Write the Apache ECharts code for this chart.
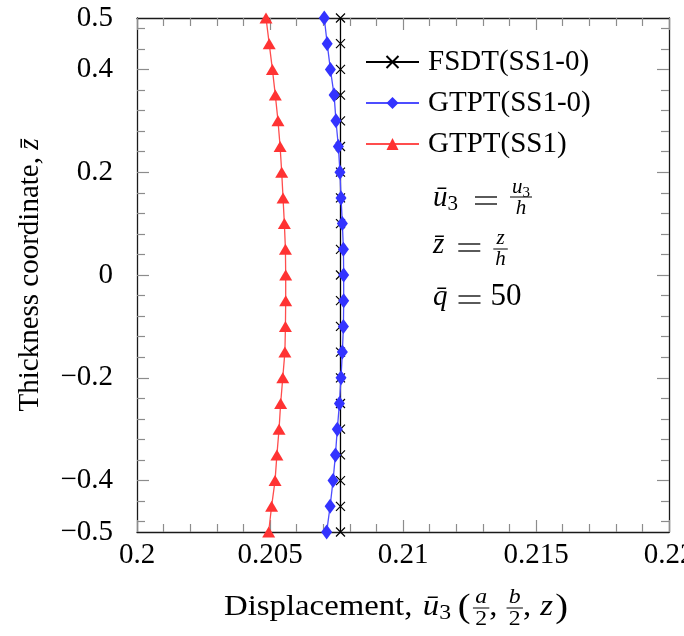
<!DOCTYPE html>
<html>
<head>
<meta charset="utf-8">
<script src="https://cdn.jsdelivr.net/npm/echarts@6/dist/echarts.min.js"></script>
<style>html,body{margin:0;padding:0;background:#fff}#c{width:684px;height:636px}</style>
</head>
<body>
<div id="c"></div>
<script>
// ---- data ----
const seriesNames = ['FSDT(SS1-0)', 'GTPT(SS1-0)', 'GTPT(SS1)'];
const zValues = [-0.5, -0.45, -0.4, -0.35, -0.3, -0.25, -0.2, -0.15, -0.1, -0.05, 0,
                 0.05, 0.1, 0.15, 0.2, 0.25, 0.3, 0.35, 0.4, 0.45, 0.5];
const fsdtSS10 = [0.20765, 0.20765, 0.20765, 0.20765, 0.20765, 0.20765, 0.20765, 0.20765, 0.20765, 0.20765, 0.20765,
                  0.20765, 0.20765, 0.20765, 0.20765, 0.20765, 0.20765, 0.20765, 0.20765, 0.20765, 0.20765];
const gtptSS10 = [0.20713, 0.20726, 0.20737, 0.20746, 0.20753, 0.20761, 0.20767, 0.20772, 0.20776, 0.20777, 0.20777,
                  0.20776, 0.20772, 0.20767, 0.20763, 0.20757, 0.20748, 0.20741, 0.20727, 0.20715, 0.20704];
const gtptSS1  = [0.20495, 0.20506, 0.20519, 0.20526, 0.20534, 0.20540, 0.20548, 0.20556, 0.20558, 0.20559, 0.20559,
                  0.20558, 0.20554, 0.20549, 0.20544, 0.20538, 0.20530, 0.20520, 0.20509, 0.20497, 0.20485];
const xTickLabels = [0.2, 0.205, 0.21, 0.215, 0.22];
const xMinorTicks = [0.201, 0.202, 0.203, 0.204, 0.206, 0.207, 0.208, 0.209, 0.211, 0.212, 0.213, 0.214,
                     0.216, 0.217, 0.218, 0.219];
const yTickLabels = [-0.5, -0.4, -0.2, 0, 0.2, 0.4, 0.5];
const yMajorTicks = [-0.4, -0.2, 0, 0.2, 0.4];
const yMinorTicks = [-0.48, -0.44, -0.36, -0.32, -0.28, -0.24, -0.16, -0.12, -0.08, -0.04,
                     0.04, 0.08, 0.12, 0.16, 0.24, 0.28, 0.32, 0.36, 0.44, 0.48];

// ---- helpers ----
const SERIF = '"Liberation Serif", "Times New Roman", serif';
const TICKC = '#8c8c8c';
const AXISC = '#1a1a1a';
const mctx = document.createElement('canvas').getContext('2d');
function fontStr(size, italic) { return (italic ? 'italic ' : '') + size + 'px ' + SERIF; }
function tw(t, size, italic) { mctx.font = fontStr(size, italic); return mctx.measureText(t).width; }
function txt(t, x, baseline, size, italic) {
  return { type: 'text', x: x, y: baseline - 0.34 * size, silent: true,
    style: { text: t, font: fontStr(size, italic), fill: '#000', verticalAlign: 'middle', align: 'left' } };
}
function hline(x1, x2, y, lw) {
  return { type: 'line', silent: true, shape: { x1: x1, y1: y, x2: x2, y2: y }, style: { stroke: '#000', lineWidth: lw || 1 } };
}
// parts: {t,size,italic,dy} | {gap} | {eq:width} | {frac:[[parts],[parts]], bar, num, den}
function rowWidth(parts) {
  let w = 0;
  parts.forEach(p => {
    if (p.gap !== undefined) w += p.gap;
    else if (p.eq !== undefined) w += p.eq;
    else if (p.frac) w += Math.max(rowWidth(p.frac[0]), rowWidth(p.frac[1])) + 4;
    else w += tw(p.t, p.size, p.italic);
  });
  return w;
}
function mathRow(x0, B, parts, out) {
  let x = x0;
  parts.forEach(p => {
    if (p.gap !== undefined) { x += p.gap; return; }
    if (p.eq !== undefined) {
      out.push(hline(x, x + p.eq, B - 11, 1.3));
      out.push(hline(x, x + p.eq, B - 4, 1.3));
      x += p.eq; return;
    }
    if (p.frac) {
      const wn = rowWidth(p.frac[0]), wd = rowWidth(p.frac[1]);
      const W = Math.max(wn, wd) + 4;
      mathRow(x + (W - wn) / 2, B + p.num, p.frac[0], out);
      mathRow(x + (W - wd) / 2, B + p.den, p.frac[1], out);
      out.push(hline(x, x + W, B + p.bar, 1));
      x += W; return;
    }
    out.push(txt(p.t, x, B + (p.dy || 0), p.size, p.italic));
    x += tw(p.t, p.size, p.italic);
  });
  return x;
}

const F = 29, FS = 21, FSS = 15;
const graphics = [];
// x-axis title (slightly widened to imitate Computer Modern proportions)
const xTitle = [
  { t: 'Displacement, ', size: F }, { gap: 2 }, { t: 'ū', size: F, italic: true }, { t: '3', size: FS, dy: 4 },
  { gap: 6 }, { t: '(', size: 34, dy: 3 }, { gap: 2 },
  { frac: [[{ t: 'a', size: FS, italic: true }], [{ t: '2', size: FS }]], num: -12, den: 10, bar: -9 },
  { t: ',', size: F }, { gap: 8 },
  { frac: [[{ t: 'b', size: FS, italic: true }], [{ t: '2', size: FS }]], num: -12, den: 10, bar: -9 },
  { t: ',', size: F }, { gap: 8 }, { t: 'z', size: F, italic: true }, { gap: 2 }, { t: ')', size: 34, dy: 3 }
];
const xs = 1.13;
const xTitleEls = [];
mathRow(0, 617, xTitle, xTitleEls);
graphics.push({ type: 'group', x: 396 - rowWidth(xTitle) * xs / 2, y: 0, scaleX: xs, children: xTitleEls });
// annotations
mathRow(433, 208, [{ t: 'ū', size: F, italic: true }, { t: '3', size: FS, dy: 4 }, { gap: 17 }, { eq: 22 }, { gap: 13 },
  { frac: [[{ t: 'u', size: FS, italic: true }, { t: '3', size: FSS, dy: 3 }], [{ t: 'h', size: FS, italic: true }]], num: -13, den: 8, bar: -11 }], graphics);
mathRow(433, 255, [{ t: 'z̄', size: F, italic: true }, { gap: 14 }, { eq: 22 }, { gap: 13 },
  { frac: [[{ t: 'z', size: FS, italic: true }], [{ t: 'h', size: FS, italic: true }]], num: -9, den: 12, bar: -6 }], graphics);
mathRow(433, 307, [{ t: 'q̄', size: F, italic: true }, { gap: 11 }, { eq: 22 }, { gap: 10 }, { t: '50', size: 31 }], graphics);

function fmt(v) { return String(parseFloat(v.toFixed(4))).replace('-', '\u2212'); }

function mkAxis(kind, pos, opts) {
  return {
    type: 'value', position: pos,
    min: kind === 'x' ? 0.2 : -0.5, max: kind === 'x' ? 0.22 : 0.5,
    splitLine: { show: false },
    axisLine: { show: !!opts.line, onZero: false, lineStyle: { color: AXISC, width: 1.3 } },
    axisTick: { show: true, inside: true, length: opts.len, customValues: opts.ticks, lineStyle: { color: TICKC, width: 1.2 } },
    axisLabel: opts.labels ? { show: true, customValues: opts.labels, formatter: fmt, margin: opts.margin,
      fontFamily: SERIF, fontSize: F, color: '#000', hideOverlap: false, showMinLabel: true, showMaxLabel: true }
      : { show: false }
  };
}
const option = {
  animation: false,
  backgroundColor: '#fff',
  grid: { left: 137, right: 15, top: 18, bottom: 104, containLabel: false, outerBoundsMode: 'none' },
  xAxis: [
    mkAxis('x', 'bottom', { line: true, len: 12, ticks: xTickLabels, labels: xTickLabels, margin: 9 }),
    mkAxis('x', 'bottom', { line: false, len: 8, ticks: xMinorTicks }),
    mkAxis('x', 'top', { line: true, len: 12, ticks: xTickLabels }),
    mkAxis('x', 'top', { line: false, len: 8, ticks: xMinorTicks })
  ],
  yAxis: [
    Object.assign(mkAxis('y', 'left', { line: true, len: 12, ticks: yMajorTicks, labels: yTickLabels, margin: 24 }), {
      name: 'Thickness coordinate, {i|z̄}', nameLocation: 'middle', nameGap: 92,
      nameTextStyle: { fontFamily: SERIF, fontSize: F, color: '#000',
        rich: { i: { fontFamily: SERIF, fontSize: F, fontStyle: 'italic', color: '#000' } } }
    }),
    mkAxis('y', 'left', { line: false, len: 8, ticks: yMinorTicks }),
    mkAxis('y', 'right', { line: true, len: 12, ticks: yMajorTicks }),
    mkAxis('y', 'right', { line: false, len: 8, ticks: yMinorTicks })
  ],
  legend: {
    orient: 'vertical', left: 365, top: 47, padding: 0, itemWidth: 53, itemHeight: 15, itemGap: 11,
    data: seriesNames,
    textStyle: { fontFamily: SERIF, fontSize: F, color: '#000', lineHeight: 30, padding: [0, 0, 0, 4] }
  },
  series: [
    { name: seriesNames[0], type: 'line', clip: false, xAxisIndex: 0, yAxisIndex: 0,
      data: zValues.map((z, i) => [fsdtSS10[i], z]),
      symbol: 'path://M0,0L10,10M10,0L0,10', symbolSize: 9,
      itemStyle: { color: 'rgba(0,0,0,0)', borderColor: '#000', borderWidth: 1.2 },
      lineStyle: { color: '#000', width: 1.3 } },
    { name: seriesNames[1], type: 'line', clip: false, xAxisIndex: 0, yAxisIndex: 0,
      data: zValues.map((z, i) => [gtptSS10[i], z]),
      symbol: 'diamond', symbolSize: [11, 15],
      itemStyle: { color: '#3333ff', borderWidth: 0 },
      lineStyle: { color: '#4d4dff', width: 1.3 } },
    { name: seriesNames[2], type: 'line', clip: false, xAxisIndex: 0, yAxisIndex: 0,
      data: zValues.map((z, i) => [gtptSS1[i], z]),
      symbol: 'triangle', symbolSize: [13, 11],
      itemStyle: { color: '#ff3333', borderWidth: 0 },
      lineStyle: { color: '#ff4d4d', width: 1.3 } }
  ],
  graphic: graphics
};
const chart = echarts.init(document.getElementById('c'), null, { renderer: 'canvas' });
chart.setOption(option);
</script>
</body>
</html>
